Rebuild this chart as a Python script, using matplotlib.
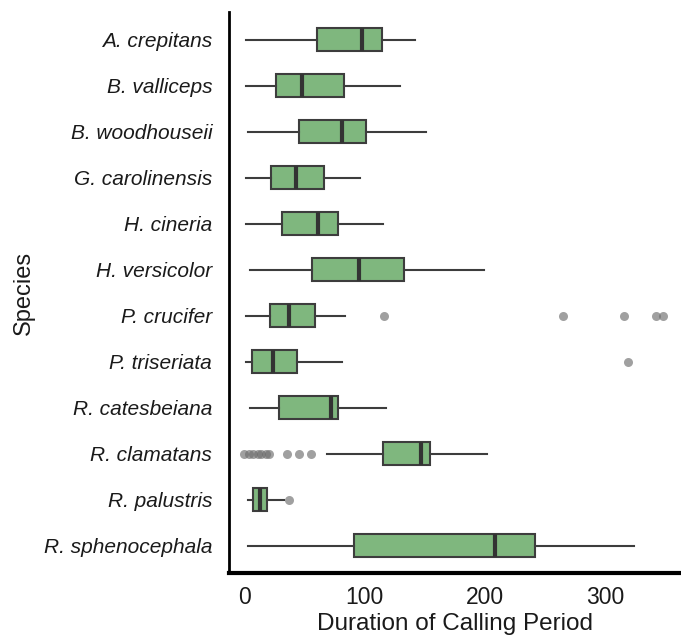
import matplotlib
matplotlib.use("Agg")
import matplotlib.pyplot as plt

plt.rcParams['font.family'] = ['Liberation Sans', 'DejaVu Sans']

# species in display order (top to bottom)
species = ["A. crepitans", "B. valliceps", "B. woodhouseii", "G. carolinensis",
           "H. cineria", "H. versicolor", "P. crucifer", "P. triseriata",
           "R. catesbeiana", "R. clamatans", "R. palustris", "R. sphenocephala"]

# five-number summaries of calling period duration
whisker_low = [1, 1, 3, 1, 1, 5, 1, 1, 5, 69, 3, 3]
q1 = [60, 26, 45, 22, 31, 56, 21, 6, 29, 115, 7, 91]
medians = [98, 48, 81, 43, 61, 95, 37, 24, 72, 147, 13, 208]
q3 = [114, 83, 101, 66, 78, 133, 59, 44, 78, 154, 19, 242]
whisker_high = [142, 129, 151, 96, 115, 199, 84, 81, 118, 202, 33, 324]
outliers = [[], [], [], [], [], [], [116, 265, 316, 342, 348], [319], [],
            [0, 4, 7, 11, 14, 18, 20, 35, 45, 55], [37], []]

stats = []
for i, name in enumerate(species):
    stats.append({
        "label": name,
        "whislo": whisker_low[i],
        "q1": q1[i],
        "med": medians[i],
        "q3": q3[i],
        "whishi": whisker_high[i],
        "fliers": outliers[i],
    })

fig = plt.figure(figsize=(6.81, 6.42), dpi=100)
ax = fig.add_axes([0.336, 0.107, 0.664, 0.874])

ax.bxp(stats, positions=range(len(species)), orientation="horizontal", widths=0.5,
       showcaps=False, patch_artist=True,
       boxprops=dict(facecolor="#7fb77e", edgecolor="#3d3d3d", linewidth=1.5),
       medianprops=dict(color="#333333", linewidth=3),
       whiskerprops=dict(color="#3d3d3d", linewidth=1.5),
       flierprops=dict(marker="o", markersize=6.5, markerfacecolor="#6e6e6e",
                       markeredgecolor="none", alpha=0.65))

ax.set_ylim(len(species) - 0.4, -0.6)
ax.set_xlim(-13, 363)
ax.set_xticks([0, 100, 200, 300])

ax.set_yticks(range(len(species)))
ax.set_yticklabels(species, fontsize=15, style="italic", color="#1a1a1a")
ax.tick_params(axis="x", labelsize=16.5, length=0, pad=9, labelcolor="#1a1a1a")
ax.tick_params(axis="y", length=0, pad=12)

ax.set_xlabel("Duration of Calling Period", fontsize=17.5, labelpad=3, color="#1a1a1a")
ax.set_ylabel("Species", fontsize=17, labelpad=6, color="#1a1a1a")

ax.spines["top"].set_visible(False)
ax.spines["right"].set_visible(False)
ax.spines["left"].set_linewidth(2)
ax.spines["bottom"].set_linewidth(3)

fig.savefig("out.png", dpi=100)
